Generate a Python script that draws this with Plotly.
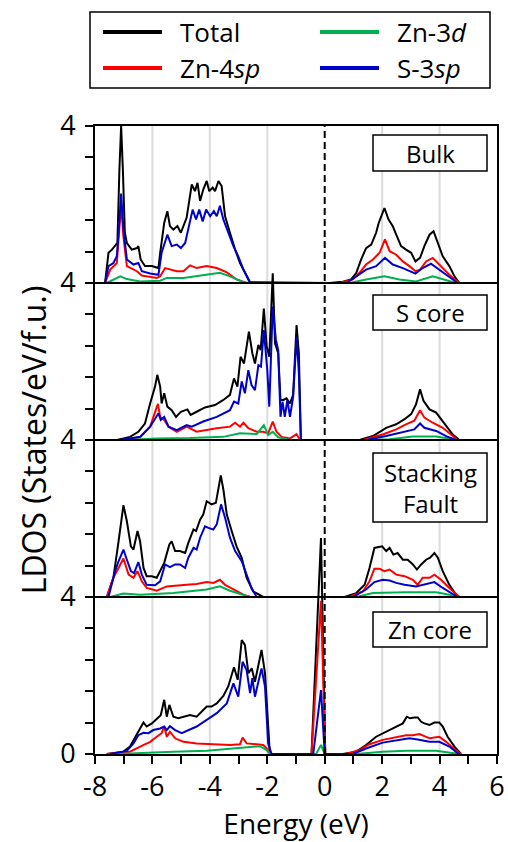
import plotly.graph_objects as go

# ---------------- data (Energy in eV, LDOS in States/eV/f.u.) ----------------
# Bulk
bulk_total_e = [-7.65, -7.53, -7.41, -7.30, -7.22, -7.15, -7.09, -7.03, -6.96, -6.89, -6.72, -6.54, -6.49, -6.41,
                -6.26, -6.02, -5.79, -5.73, -5.59, -5.48, -5.39, -5.27, -5.13, -5.01, -4.92, -4.81, -4.63, -4.52,
                -4.43, -4.34, -4.23, -4.11, -4.02, -3.90, -3.82, -3.70, -3.59, -3.47, -3.30, -3.12, -2.95, -2.78,
                -2.60, 0.17, 0.63, 0.92, 1.10, 1.27, 1.44, 1.62, 1.79, 1.88, 2.08, 2.22, 2.37, 2.49, 2.66, 2.83,
                3.01, 3.16, 3.32, 3.47, 3.65, 3.79, 3.94, 4.11, 4.34, 4.52, 4.69]
bulk_total_v = [0, 0.77, 0.85, 0.94, 1.02, 2.89, 4.0, 2.89, 1.28, 1.02, 0.85, 0.89, 0.94, 0.60,
                0.43, 0.43, 0.38, 0.77, 1.53, 1.83, 1.45, 1.36, 1.45, 1.28, 1.45, 1.66, 2.51, 2.34,
                2.55, 2.09, 2.38, 2.60, 2.34, 2.43, 2.34, 2.60, 2.47, 1.70, 1.28, 0.85, 0.51, 0.26,
                0.02, 0, 0.03, 0.09, 0.26, 0.60, 0.89, 0.98, 1.28, 1.53, 1.91, 1.62, 1.45, 1.23, 0.94, 0.85,
                0.77, 0.55, 0.64, 0.94, 1.23, 1.32, 1.02, 0.68, 0.43, 0.17, 0]
bulk_s3sp_e = [-7.65, -7.53, -7.36, -7.24, -7.15, -7.09, -7.01, -6.89, -6.66, -6.49, -6.37, -6.08, -5.79, -5.68,
               -5.48, -5.33, -5.15, -5.01, -4.86, -4.75, -4.60, -4.48, -4.37, -4.25, -4.13, -3.99, -3.86, -3.76,
               -3.65, -3.53, -3.36, -3.18, -3.01, -2.83, -2.60, 0.75, 1.10, 1.44, 1.79, 2.10, 2.37, 2.72, 3.16,
               3.41, 3.70, 3.99, 4.34, 4.63]
bulk_s3sp_v = [0, 0.43, 0.51, 0.68, 1.60, 2.28, 1.36, 0.60, 0.47, 0.51, 0.30, 0.24, 0.21, 0.77,
               1.23, 0.94, 0.98, 0.89, 1.02, 1.36, 1.87, 1.62, 1.87, 1.57, 1.87, 1.70, 1.83, 1.70,
               1.97, 1.62, 1.28, 0.94, 0.68, 0.34, 0, 0, 0.17, 0.34, 0.43, 0.64, 0.47, 0.38, 0.24,
               0.38, 0.49, 0.34, 0.15, 0]
bulk_zn4sp_e = [-7.65, -7.47, -7.24, -7.15, -7.09, -7.01, -6.89, -6.54, -6.37, -5.85, -5.73, -5.56, -5.39, -5.15,
                -4.92, -4.69, -4.46, -4.11, -3.76, -3.41, -3.07, -2.72, 0.52, 0.98, 1.21, 1.44, 1.68, 1.91, 2.10,
                2.26, 2.49, 2.72, 2.95, 3.16, 3.32, 3.53, 3.76, 3.99, 4.34, 4.69]
bulk_zn4sp_v = [0, 0.34, 0.51, 1.30, 2.00, 1.19, 0.43, 0.30, 0.19, 0.13, 0.17, 0.38, 0.34, 0.30,
                0.30, 0.45, 0.38, 0.43, 0.38, 0.27, 0.09, 0, 0, 0.09, 0.26, 0.47, 0.60, 0.77, 1.11,
                0.81, 0.72, 0.55, 0.43, 0.30, 0.34, 0.55, 0.64, 0.47, 0.21, 0]
bulk_zn3d_e = [-7.59, -7.12, -6.89, -6.43, -5.73, -5.50, -4.92, -4.11, -3.65, -3.30, -2.83, -2.60,
               0.86, 1.44, 2.08, 2.60, 3.18, 3.76, 4.23, 4.57]
bulk_zn3d_v = [0, 0.17, 0.10, 0.04, 0.06, 0.13, 0.13, 0.21, 0.26, 0.17, 0.02, 0,
               0, 0.09, 0.17, 0.09, 0.04, 0.17, 0.07, 0]

# S core
score_total_e = [-7.24, -6.78, -6.49, -6.26, -6.08, -5.91, -5.83, -5.73, -5.68, -5.59, -5.48, -5.33, -5.18, -5.01,
                 -4.78, -4.67, -4.46, -4.17, -3.82, -3.53, -3.30, -3.16, -3.04, -2.93, -2.81, -2.64, -2.52, -2.43,
                 -2.31, -2.23, -2.12, -2.02, -1.93, -1.81, -1.73, -1.62, -1.54, -1.44, -1.33, -1.21, -1.10, -0.98,
                 -0.90, -0.83, 1.21, 1.68, 2.14, 2.49, 2.78, 3.01, 3.18, 3.32, 3.44, 3.65, 3.88, 4.11, 4.46, 4.69]
score_total_v = [0, 0.08, 0.21, 0.42, 0.93, 1.36, 1.66, 1.36, 0.93, 1.19, 0.85, 0.76, 0.59, 0.72,
                 0.78, 0.64, 0.72, 0.83, 0.89, 1.02, 1.15, 1.57, 1.36, 2.12, 1.95, 2.76, 2.21, 1.95,
                 2.42, 2.29, 3.35, 2.38, 2.12, 4.25, 2.46, 2.21, 1.02, 1.02, 1.06, 0.93, 1.15, 2.93,
                 2.21, 0, 0, 0.10, 0.31, 0.40, 0.53, 0.66, 0.91, 1.29, 1.00, 0.78, 0.70, 0.49, 0.14, 0]
score_s3sp_e = [-7.12, -6.43, -6.08, -5.91, -5.79, -5.71, -5.59, -5.44, -5.15, -4.81, -4.63, -4.23, -3.76, -3.30,
                -3.16, -3.01, -2.89, -2.78, -2.66, -2.55, -2.43, -2.31, -2.22, -2.12, -2.00, -1.93, -1.81, -1.70,
                -1.62, -1.54, -1.47, -1.39, -1.30, -1.21, -1.10, -0.98, -0.90, -0.83, 1.44, 2.14, 2.72, 3.12,
                3.32, 3.47, 3.88, 4.23, 4.57]
score_s3sp_v = [0, 0.08, 0.34, 0.55, 0.68, 0.51, 0.59, 0.34, 0.25, 0.38, 0.34, 0.47, 0.59, 0.76,
                0.98, 0.93, 1.49, 1.19, 1.78, 1.40, 1.27, 1.91, 1.87, 2.80, 1.78, 0.85, 3.40, 2.55,
                2.29, 0.59, 0.98, 0.59, 1.02, 0.59, 1.10, 2.63, 1.70, 0, 0, 0.10, 0.19, 0.27,
                0.42, 0.31, 0.23, 0.10, 0]
score_zn4sp_e = [-7.12, -6.43, -6.08, -5.91, -5.81, -5.73, -5.59, -5.44, -5.15, -4.81, -4.46, -3.76, -3.30, -3.12,
                 -2.95, -2.83, -2.66, -2.37, -2.14, -1.97, -1.81, -1.68, -1.50, -1.21, -0.98, -0.86, 1.33, 2.02,
                 2.49, 2.83, 3.12, 3.32, 3.47, 3.76, 4.11, 4.46, 4.63]
score_zn4sp_v = [0, 0.07, 0.34, 0.68, 0.92, 0.59, 0.51, 0.34, 0.21, 0.34, 0.21, 0.30, 0.34, 0.44,
                 0.34, 0.44, 0.30, 0.21, 0.21, 0.17, 0.47, 0.21, 0.08, 0.04, 0.15, 0, 0, 0.14,
                 0.27, 0.40, 0.49, 0.76, 0.57, 0.44, 0.31, 0.10, 0]
score_zn3d_e = [-7.01, -5.85, -4.69, -3.53, -2.95, -2.37, -2.12, -1.97, -1.81, -1.62, -1.21,
                1.56, 2.26, 3.07, 3.88, 4.46, 4.63]
score_zn3d_v = [0, 0.04, 0.05, 0.08, 0.17, 0.15, 0.38, 0.13, 0.21, 0.07, 0,
                0, 0.02, 0.09, 0.09, 0.02, 0]

# Stacking fault
sf_total_e = [-7.59, -7.36, -7.18, -7.01, -6.89, -6.75, -6.66, -6.52, -6.43, -6.31, -6.20, -6.02, -5.85, -5.73,
              -5.59, -5.41, -5.33, -5.21, -5.04, -4.86, -4.75, -4.57, -4.48, -4.34, -4.23, -4.11, -3.94, -3.79,
              -3.62, -3.53, -3.41, -3.24, -3.07, -2.89, -2.72, -2.49, -2.14, 0.69, 1.10, 1.39, 1.56, 1.73, 1.85,
              2.00, 2.14, 2.26, 2.39, 2.54, 2.72, 2.89, 3.07, 3.21, 3.36, 3.53, 3.67, 3.82, 3.94, 4.11, 4.34,
              4.57, 4.69]
sf_total_v = [0, 0.49, 1.42, 2.34, 1.93, 1.29, 1.21, 1.68, 1.42, 0.74, 0.53, 0.53, 0.49, 0.66,
              0.87, 1.34, 1.42, 1.17, 1.17, 1.12, 1.38, 1.72, 1.68, 1.97, 2.10, 2.44, 2.36, 2.40,
              3.10, 2.74, 2.10, 1.68, 1.29, 1.00, 0.49, 0.14, 0, 0, 0.10, 0.31, 0.74, 1.25, 1.27,
              1.29, 1.17, 1.25, 1.08, 1.12, 0.95, 0.95, 0.83, 0.70, 0.83, 0.95, 1.00, 1.12, 1.00, 0.66, 0.31,
              0.06, 0]
sf_s3sp_e = [-7.53, -7.30, -7.18, -7.01, -6.89, -6.75, -6.64, -6.49, -6.37, -6.20, -5.91, -5.73, -5.56, -5.39,
             -5.21, -5.04, -4.86, -4.75, -4.57, -4.46, -4.34, -4.17, -4.05, -3.88, -3.76, -3.61, -3.47, -3.30,
             -3.12, -2.89, -2.72, -2.55, -2.37, 0.98, 1.44, 1.73, 2.02, 2.26, 2.49, 2.78, 3.18, 3.41, 3.82,
             4.11, 4.46, 4.63]
sf_s3sp_v = [0, 0.66, 0.91, 1.21, 0.95, 0.66, 0.61, 0.89, 0.57, 0.31, 0.30, 0.40, 0.83, 0.76,
             0.83, 0.83, 0.74, 1.00, 1.25, 1.21, 1.51, 1.80, 1.76, 1.72, 1.85, 2.36, 2.02, 1.51,
             1.17, 0.91, 0.57, 0.23, 0, 0, 0.19, 0.38, 0.44, 0.42, 0.36, 0.31, 0.27, 0.31, 0.38,
             0.23, 0.06, 0]
sf_zn4sp_e = [-7.59, -7.36, -7.18, -7.01, -6.83, -6.66, -6.52, -6.37, -6.20, -5.85, -5.50, -5.15, -4.81, -4.46,
              -4.11, -3.88, -3.65, -3.47, -3.18, -2.83, -2.60, 0.86, 1.33, 1.56, 1.73, 1.91, 2.08, 2.26, 2.49,
              2.78, 3.07, 3.24, 3.41, 3.65, 3.82, 4.05, 4.34, 4.69]
sf_zn4sp_v = [0, 0.49, 0.74, 0.98, 0.57, 0.49, 0.66, 0.40, 0.23, 0.16, 0.27, 0.30, 0.31, 0.33,
              0.38, 0.36, 0.44, 0.31, 0.19, 0.06, 0, 0, 0.14, 0.40, 0.72, 0.72, 0.66, 0.70, 0.57,
              0.53, 0.44, 0.31, 0.49, 0.49, 0.57, 0.44, 0.23, 0]
sf_zn3d_e = [-7.47, -7.01, -6.43, -5.27, -4.11, -3.65, -3.30, -2.83, -2.60,
             1.10, 1.68, 2.83, 3.88, 4.34, 4.63]
sf_zn3d_v = [0, 0.09, 0.06, 0.10, 0.19, 0.27, 0.16, 0.04, 0,
             0, 0.10, 0.12, 0.12, 0.06, 0]

# Zn core
zncore_total_e = [-7.59, -7.01, -6.78, -6.60, -6.43, -6.31, -6.20, -6.02, -5.85, -5.71, -5.59, -5.50, -5.41, -5.27,
                  -5.10, -4.92, -4.69, -4.46, -4.28, -4.11, -3.94, -3.76, -3.53, -3.36, -3.16, -3.03, -2.89, -2.78,
                  -2.66, -2.54, -2.43, -2.31, -2.20, -2.08, -1.91, -0.46, -0.13, 0.02, 0.63, 1.10, 1.44, 1.79,
                  2.14, 2.49, 2.72, 2.86, 2.97, 3.12, 3.24, 3.36, 3.47, 3.65, 3.82, 3.99, 4.11, 4.28, 4.52, 4.75]
zncore_total_v = [0, 0.06, 0.19, 0.44, 0.65, 0.80, 0.70, 0.78, 0.91, 0.99, 1.38, 0.95, 1.25, 0.95,
                  0.91, 0.95, 0.99, 0.95, 1.08, 1.21, 1.21, 1.29, 1.48, 1.72, 2.21, 1.89, 2.90, 2.78,
                  2.06, 2.18, 1.84, 2.23, 2.65, 2.06, 0, 0, 5.50, 0, 0, 0.06, 0.23, 0.44,
                  0.57, 0.70, 0.78, 0.95, 0.91, 0.93, 0.93, 0.82, 0.78, 0.74, 0.80, 0.80, 0.70, 0.44, 0.19, 0]
zncore_s3sp_e = [-7.47, -6.89, -6.66, -6.49, -6.31, -6.14, -5.97, -5.73, -5.59, -5.50, -5.39, -5.21, -4.98, -4.75,
                 -4.46, -4.11, -3.76, -3.41, -3.18, -3.01, -2.86, -2.72, -2.60, -2.52, -2.43, -2.31, -2.20, -2.08,
                 -1.97, -1.85, -0.40, -0.13, 0.00, 0.98, 1.44, 2.02, 2.60, 2.95, 3.24, 3.65, 3.99, 4.34, 4.63, 4.70]
zncore_s3sp_v = [0, 0.08, 0.27, 0.48, 0.54, 0.53, 0.61, 0.65, 0.70, 0.61, 0.71, 0.61, 0.53, 0.61,
                 0.70, 0.87, 1.04, 1.29, 1.80, 1.46, 2.35, 2.14, 1.55, 1.93, 1.46, 1.84, 2.18, 1.72,
                 0.27, 0, 0, 1.63, 0, 0, 0.14, 0.29, 0.36, 0.40, 0.37, 0.31, 0.31, 0.19, 0.02, 0]
zncore_zn4sp_e = [-7.59, -6.78, -6.43, -6.08, -5.85, -5.68, -5.59, -5.50, -5.39, -5.21, -4.92, -4.46, -3.88, -3.30,
                  -2.95, -2.86, -2.72, -2.37, -2.14, -2.02, -1.85, -0.46, -0.13, 0.02, 0.75, 1.21, 1.56, 2.02,
                  2.49, 2.83, 3.07, 3.30, 3.65, 3.99, 4.23, 4.52, 4.75]
zncore_zn4sp_v = [0, 0.06, 0.19, 0.31, 0.44, 0.53, 0.70, 0.44, 0.57, 0.40, 0.31, 0.27, 0.25, 0.23,
                  0.25, 0.42, 0.27, 0.25, 0.23, 0.14, 0, 0, 3.90, 0, 0, 0.10, 0.25, 0.36,
                  0.44, 0.48, 0.48, 0.51, 0.40, 0.44, 0.31, 0.12, 0]
zncore_zn3d_e = [-7.24, -6.43, -5.27, -4.11, -3.18, -2.60, -2.26, -2.02, -1.91, -0.30, -0.13, 0.00,
                 1.10, 2.02, 2.83, 3.88, 4.46, 4.69]
zncore_zn3d_v = [0, 0.03, 0.06, 0.08, 0.14, 0.19, 0.20, 0.10, 0, 0, 0.23, 0,
                 0, 0.06, 0.08, 0.08, 0.03, 0]

panel_names = ["Bulk", "S core", "Stacking<br>Fault", "Zn core"]
series_names = ["Total", "Zn-4<i>sp</i>", "Zn-3<i>d</i>", "S-3<i>sp</i>"]
series_colors = ["#000000", "#ff0000", "#00b050", "#0000cc"]

x_tick_vals = [-8, -6, -4, -2, 0, 2, 4, 6]
x_tick_text = ["-8", "-6", "-4", "-2", "0", "2", "4", "6"]
x_minor_vals = [-7, -5, -3, -1, 1, 3, 5]
grid_x = [-6, -4, -2, 2, 4]

panel_data = [
    [(bulk_total_e, bulk_total_v), (bulk_zn4sp_e, bulk_zn4sp_v), (bulk_zn3d_e, bulk_zn3d_v), (bulk_s3sp_e, bulk_s3sp_v)],
    [(score_total_e, score_total_v), (score_zn4sp_e, score_zn4sp_v), (score_zn3d_e, score_zn3d_v), (score_s3sp_e, score_s3sp_v)],
    [(sf_total_e, sf_total_v), (sf_zn4sp_e, sf_zn4sp_v), (sf_zn3d_e, sf_zn3d_v), (sf_s3sp_e, sf_s3sp_v)],
    [(zncore_total_e, zncore_total_v), (zncore_zn4sp_e, zncore_zn4sp_v), (zncore_zn3d_e, zncore_zn3d_v), (zncore_s3sp_e, zncore_s3sp_v)],
]

# ---------------- layout geometry ----------------
W, H = 508, 842
ML, MR, MT, MB = 95, 11, 126, 88
PW = W - ML - MR
PH = H - MT - MB
PANEL = 4.0
NP = len(panel_data)
FONT = "Open Sans"


def pxx(px):
    return (px - ML) / PW


def pxy(py):
    return (H - MB - py) / PH


fig = go.Figure()
for i, panel in enumerate(panel_data):
    off = PANEL * (NP - 1 - i)
    for (e, v), name, col in zip(panel, series_names, series_colors):
        fig.add_trace(go.Scatter(x=e, y=[val + off for val in v], mode="lines",
                                 line=dict(color=col, width=2), showlegend=False,
                                 hoverinfo="skip"))

shapes = []
for gx in grid_x:
    shapes.append(dict(type="line", xref="x", yref="paper", x0=gx, x1=gx, y0=0, y1=1,
                       line=dict(color="#dcdcdc", width=2), layer="below"))
for k in range(1, NP):
    shapes.append(dict(type="line", xref="paper", yref="y", x0=0, x1=1, y0=PANEL * k, y1=PANEL * k,
                       line=dict(color="black", width=2), layer="above"))
shapes.append(dict(type="line", xref="x", yref="paper", x0=0, x1=0, y0=0, y1=1,
                   line=dict(color="black", width=2, dash="7px,4px"), layer="above"))

# panel label boxes (pixel positions)
label_boxes = [(135, 171), (295, 330), (453, 522), (612, 647)]
annotations = []
for name, (ytop, ybot) in zip(panel_names, label_boxes):
    shapes.append(dict(type="rect", xref="paper", yref="paper", x0=pxx(373), x1=pxx(487),
                       y0=pxy(ybot), y1=pxy(ytop), line=dict(color="black", width=1.5),
                       fillcolor="white", layer="above"))
    annotations.append(dict(xref="paper", yref="paper", x=pxx(430), y=pxy((ytop + ybot) / 2),
                            text=name, showarrow=False, xanchor="center", yanchor="middle",
                            font=dict(family=FONT, size=24, color="black")))

# legend (manual)
shapes.append(dict(type="rect", xref="paper", yref="paper", x0=pxx(90), x1=pxx(490),
                   y0=pxy(88), y1=pxy(12), line=dict(color="black", width=1.5)))
legend_pos = [(103, 32), (103, 68), (320, 32), (320, 68)]
for (lx, ly), name, col in zip(legend_pos, series_names, series_colors):
    shapes.append(dict(type="line", xref="paper", yref="paper", x0=pxx(lx), x1=pxx(lx + 59),
                       y0=pxy(ly), y1=pxy(ly), line=dict(color=col, width=4)))
    annotations.append(dict(xref="paper", yref="paper", x=pxx(lx + 75), y=pxy(ly), text=name,
                            showarrow=False, xanchor="left", yanchor="middle",
                            font=dict(family=FONT, size=26, color="black")))

y_tick_vals = [round(0.8 * k, 2) for k in range(int(PANEL * NP / 0.8) + 1)]
y_tick_text = []
for v in y_tick_vals:
    if v == 0:
        y_tick_text.append("0")
    elif abs(v % PANEL) < 1e-6:
        y_tick_text.append(f"{int(PANEL)}")
    else:
        y_tick_text.append("")

fig.update_layout(
    width=W, height=H,
    margin=dict(l=ML, r=MR, t=MT, b=MB, autoexpand=False),
    paper_bgcolor="white", plot_bgcolor="white",
    font=dict(family=FONT, color="black"),
    shapes=shapes, annotations=annotations,
    xaxis=dict(range=[-8, 6], tickmode="array", tickvals=x_tick_vals, ticktext=x_tick_text,
               ticks="outside", ticklen=8, tickwidth=2, tickcolor="black",
               minor=dict(tickmode="array", tickvals=x_minor_vals, ticks="outside", ticklen=8,
                          tickwidth=2, tickcolor="black", showgrid=False),
               showgrid=False, zeroline=False, showline=True, mirror=True,
               linecolor="black", linewidth=2, automargin=False,
               tickfont=dict(family=FONT, size=27, color="black"),
               title=dict(text="Energy (eV)", font=dict(family=FONT, size=28, color="black"), standoff=2)),
    yaxis=dict(range=[0, PANEL * NP], tickmode="array", tickvals=y_tick_vals, ticktext=y_tick_text,
               ticks="outside", ticklen=8, tickwidth=2, tickcolor="black",
               showgrid=False, zeroline=False, showline=True, mirror=True,
               linecolor="black", linewidth=2, ticklabelstandoff=4, automargin=False,
               tickfont=dict(family=FONT, size=27, color="black"),
               title=dict(text="LDOS (States/eV/f.u.)", font=dict(family=FONT, size=32, color="black"), standoff=4)),
)

fig.write_html("out.html", config={"displayModeBar": False},
               post_script="document.body.style.margin='0px';")
